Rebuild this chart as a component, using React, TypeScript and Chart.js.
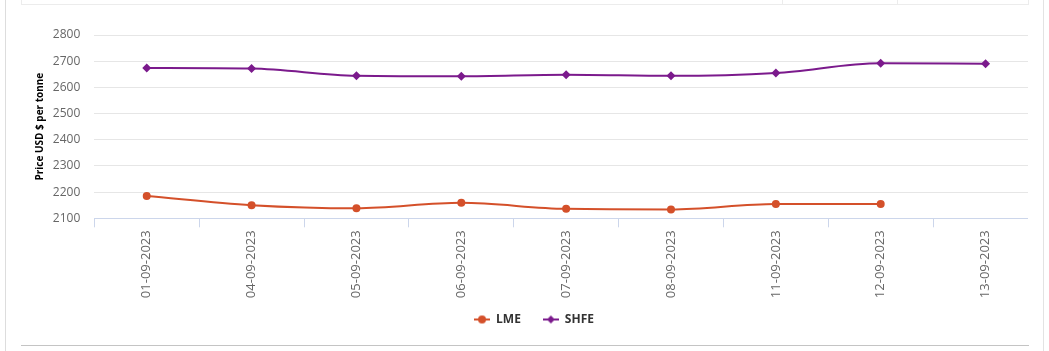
import React, { useEffect, useRef } from "react";
import { Chart, registerables } from "chart.js";

Chart.register(...registerables);

const categories = [
  "01-09-2023",
  "04-09-2023",
  "05-09-2023",
  "06-09-2023",
  "07-09-2023",
  "08-09-2023",
  "11-09-2023",
  "12-09-2023",
  "13-09-2023",
];
const lmeValues = [2185, 2150, 2138, 2159, 2136, 2134, 2155, 2155, null];
const shfeValues = [2674, 2672, 2644, 2642, 2648, 2644, 2655, 2692, 2690];
const yMin = 2100;
const yMax = 2800;
const yStep = 100;
const yTitle = "Price USD $ per tonne";
const LME_COLOR = "#d4502a";
const SHFE_COLOR = "#7b1a8c";

function legendIcon(color: string, style: "circle" | "diamond") {
  const c = document.createElement("canvas");
  c.width = 16;
  c.height = 10;
  const ctx = c.getContext("2d")!;
  ctx.strokeStyle = color;
  ctx.fillStyle = color;
  ctx.lineWidth = 2;
  ctx.beginPath();
  ctx.moveTo(0, 5);
  ctx.lineTo(16, 5);
  ctx.stroke();
  ctx.beginPath();
  if (style === "circle") {
    ctx.arc(8, 5, 4, 0, Math.PI * 2);
  } else {
    ctx.moveTo(8, 1);
    ctx.lineTo(12, 5);
    ctx.lineTo(8, 9);
    ctx.lineTo(4, 5);
    ctx.closePath();
  }
  ctx.fill();
  return c;
}

const legendShift = {
  id: "legendShift",
  afterLayout(chart: any) {
    const l = chart.legend;
    if (l) {
      l.left += 15;
      l.right += 15;
      l.top -= 6.8;
      l.bottom -= 6.8;
    }
  },
};

export default function App() {
  const ref = useRef<HTMLCanvasElement | null>(null);

  useEffect(() => {
    if (!ref.current) return;
    Chart.defaults.font.family = "Open Sans";
    const icons = [legendIcon(LME_COLOR, "circle"), legendIcon(SHFE_COLOR, "diamond")];
    const chart = new Chart(ref.current, {
      type: "line",
      data: {
        labels: categories,
        datasets: [
          {
            label: "LME",
            data: lmeValues,
            borderColor: LME_COLOR,
            backgroundColor: LME_COLOR,
            borderWidth: 2,
            pointRadius: 4,
            pointHoverRadius: 4,
            pointStyle: "circle",
            pointBorderWidth: 0,
            cubicInterpolationMode: "monotone",
            spanGaps: false,
          },
          {
            label: "SHFE",
            data: shfeValues,
            borderColor: SHFE_COLOR,
            backgroundColor: SHFE_COLOR,
            borderWidth: 2,
            pointRadius: 4.5,
            pointHoverRadius: 4.5,
            pointStyle: "rectRot",
            pointBorderWidth: 0,
            cubicInterpolationMode: "monotone",
          },
        ],
      },
      options: {
        animation: false,
        responsive: false,
        maintainAspectRatio: false,
        layout: { padding: { left: 0, top: 35, right: 8, bottom: 8.7 } },
        plugins: {
          tooltip: { enabled: false },
          legend: {
            position: "bottom",
            labels: {
              usePointStyle: true,
              pointStyleWidth: 16,
              padding: 22,
              color: "#333333",
              font: { family: "Open Sans", size: 12, weight: "bold" },
              generateLabels: (ch: any) =>
                ch.data.datasets.map((ds: any, i: number) => ({
                  text: ds.label,
                  pointStyle: icons[i],
                  fillStyle: ds.borderColor,
                  strokeStyle: ds.borderColor,
                  lineWidth: 0,
                  hidden: false,
                  datasetIndex: i,
                  fontColor: "#333333",
                })),
            },
          },
        },
        scales: {
          x: {
            type: "category",
            offset: true,
            grid: {
              display: true,
              drawOnChartArea: false,
              drawTicks: true,
              tickLength: 9,
              offset: true,
              color: "#ccd6eb",
            },
            border: { display: true, color: "#ccd6eb" },
            ticks: {
              minRotation: 90,
              maxRotation: 90,
              autoSkip: false,
              padding: 3,
              color: "#666666",
              font: { family: "Open Sans", size: 13 },
            },
            afterFit: (s: any) => {
              s.height = 80;
            },
          },
          y: {
            min: yMin,
            max: yMax,
            ticks: {
              stepSize: yStep,
              padding: 14,
              color: "#666666",
              font: { family: "Open Sans", size: 12 },
              callback: (v: any) => String(v),
            },
            grid: { color: "#e6e6e6", drawTicks: false },
            border: { display: false },
            title: {
              display: true,
              text: yTitle,
              color: "#000000",
              font: { family: "Open Sans", size: 10, weight: "bold" },
              padding: { top: 34, bottom: 0 },
            },
            afterFit: (s: any) => {
              s.width = 94.3;
            },
          },
        },
      } as any,
      plugins: [legendShift],
    });
    return () => chart.destroy();
  }, []);

  const line = (l: number, t: number, w: number, h: number, c: string) => (
    <div style={{ position: "absolute", left: l, top: t, width: w, height: h, background: c }} />
  );

  return (
    <div
      style={{
        position: "fixed",
        left: 0,
        top: 0,
        width: 1049,
        height: 351,
        background: "#ffffff",
        overflow: "hidden",
      }}
    >
      {line(5, 0, 1, 351, "#dddddd")}
      {line(1043, 0, 1, 351, "#e3e3e3")}
      {line(21, 4, 1008, 1, "#ececec")}
      {line(21, 0, 1, 4, "#ececec")}
      {line(782, 0, 1, 4, "#ececec")}
      {line(897, 0, 1, 4, "#ececec")}
      {line(1028, 0, 1, 4, "#ececec")}
      {line(21, 345, 1008, 1, "#c4c4c4")}
      <div
        style={{
          position: "absolute",
          left: 0,
          top: 0,
          width: 1028,
          height: 351,
          overflow: "hidden",
        }}
      >
        <canvas ref={ref} width={1046} height={351} style={{ display: "block" }} />
      </div>
    </div>
  );
}
